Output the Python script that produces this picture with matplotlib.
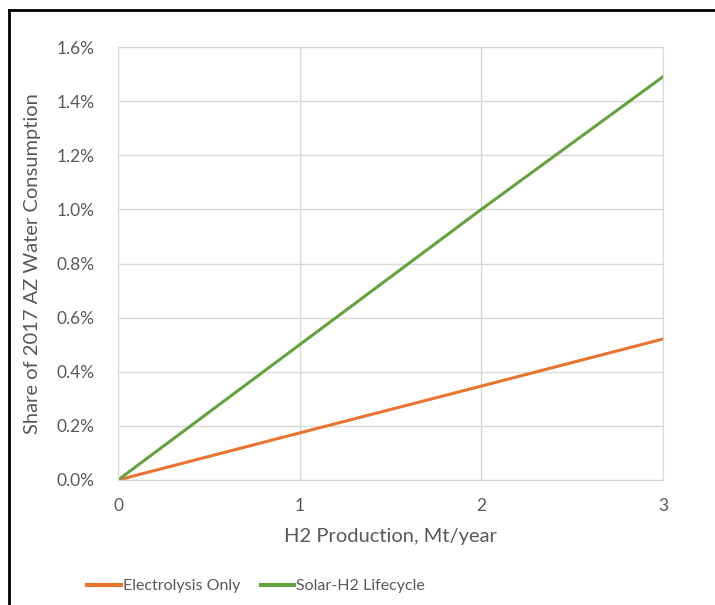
import matplotlib.pyplot as plt
from matplotlib.lines import Line2D
from matplotlib.ticker import FuncFormatter

# data
production = [0, 1, 2, 3]
electrolysis = [0.0, 0.174, 0.347, 0.521]
solar_lifecycle = [0.0, 0.50, 1.00, 1.49]

plt.rcParams['font.family'] = ['Lato', 'DejaVu Sans']
text_color = '#595959'
grid_color = '#d9d9d9'

fig = plt.figure(figsize=(7.15, 6.05), dpi=100)
ax = fig.add_axes([118 / 715, 1 - 480 / 605, (663 - 118) / 715, (480 - 47) / 605])

ax.plot(production, electrolysis, color='#E87430', lw=2.2, label='Electrolysis Only')
ax.plot(production, solar_lifecycle, color='#62A33E', lw=2.2, label='Solar-H2 Lifecycle')

ax.set_xlim(0, 3)
ax.set_ylim(0, 1.6)
ax.set_xticks([0, 1, 2, 3])
ax.set_yticks([i * 0.2 for i in range(9)])
ax.yaxis.set_major_formatter(FuncFormatter(lambda v, p: f'{v:.1f}%'))
ax.grid(True, color=grid_color, lw=1)
ax.set_axisbelow(True)
for s in ax.spines.values():
    s.set_color(grid_color)
ax.tick_params(length=0, labelsize=12.5, colors=text_color)
ax.tick_params(axis='y', pad=17)
ax.tick_params(axis='x', pad=13)

ax.set_xlabel('H2 Production, Mt/year', fontsize=14.5, color=text_color, labelpad=10)
ax.set_ylabel('Share of 2017 AZ Water Consumption', fontsize=14.5, color=text_color, labelpad=11)

fig.legend(loc='center', bbox_to_anchor=(256 / 715, 1 - 586 / 605), ncol=2, frameon=False,
           fontsize=11.5, labelcolor=text_color, handlelength=2.1, handletextpad=0.1,
           columnspacing=1.3, handleheight=0.5)
for ln in fig.legends[0].get_lines():
    ln.set_linewidth(3)

# black frame on left and top edges
fig.add_artist(Line2D([9 / 715, 9 / 715], [0, 1 - 10 / 605], color='black', lw=2))
fig.add_artist(Line2D([9 / 715, 1], [1 - 10 / 605, 1 - 10 / 605], color='black', lw=2))

fig.savefig('out.png', dpi=100)
